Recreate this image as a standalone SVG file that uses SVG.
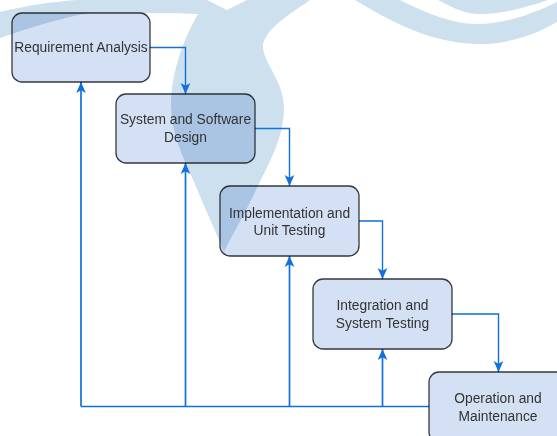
<svg xmlns="http://www.w3.org/2000/svg" width="557" height="436" viewBox="0 0 557 436">
  <style>
    .box { fill: #d4e1f5; stroke: #36393d; stroke-width: 1.3; mix-blend-mode: multiply; }
    .lbl { font-family: "Liberation Sans", Arial, sans-serif; font-size: 13.8px; fill: #333333; text-anchor: middle; }
    .wire { fill: none; stroke: #1170d9; stroke-width: 1.4; }
    .loop { stroke-width: 1.7; }
    .mark { fill: #cde0ee; }
  </style>
  <defs>
    <marker id="arrow" viewBox="0 0 10 10" refX="10" refY="5" markerWidth="11" markerHeight="11" markerUnits="userSpaceOnUse" orient="auto">
      <path d="M0,0.6 L10,5 L0,9.4 L2.5,5 Z" fill="#1170d9"/>
    </marker>
  </defs>

  <!-- faint background emblem -->
  <g id="emblem">
    <path class="mark" d="M0,12 C25,6 50,2 77,0 L207,0 L227,10 L247,0 L310,0
      C290,14 266,28 263,45 C262,62 284,80 284,108 C284,140 266,168 256,190
      C246,212 232,235 224,252 C214,228 204,206 194,182 C182,155 171,132 171,105
      C171,75 182,42 198,14 C180,13 165,13 150,13 L90,13 C60,18 30,28 12,34 L0,38 Z"/>
    <path class="mark" d="M355,0 L400,0 C420,10 450,24 477,24 C510,24 540,10 557,2 L557,22
      C540,32 510,45 477,44 C430,43 388,20 355,0 Z"/>
    <path class="mark" d="M438,0 C453,8 465,14 480,14 C505,14 530,6 548,0 Z"/>
  </g>

  <g id="connectors">
    <path class="wire" d="M150,47.5 H185.5 V94" marker-end="url(#arrow)"/>
    <path class="wire" d="M255,128.5 H289.5 V186" marker-end="url(#arrow)"/>
    <path class="wire" d="M359,221 H382.5 V279" marker-end="url(#arrow)"/>
    <path class="wire" d="M452,314 H498.5 V372" marker-end="url(#arrow)"/>
    <path class="wire loop" d="M429,406.5 H81"/>
    <path class="wire loop" d="M81,406.5 V82" marker-end="url(#arrow)"/>
    <path class="wire loop" d="M185.5,406.5 V163" marker-end="url(#arrow)"/>
    <path class="wire loop" d="M289.5,406.5 V256" marker-end="url(#arrow)"/>
    <path class="wire loop" d="M382.5,406.5 V349" marker-end="url(#arrow)"/>
  </g>

  <g id="requirement-analysis">
    <rect class="box" x="12" y="13" width="138" height="69" rx="10"/>
    <text class="lbl" x="81" y="52">Requirement Analysis</text>
  </g>
  <g id="system-software-design">
    <rect class="box" x="116" y="94" width="139" height="69" rx="10"/>
    <text class="lbl" x="185.5" y="124">System and Software</text>
    <text class="lbl" x="185.5" y="141.5">Design</text>
  </g>
  <g id="implementation-unit-testing">
    <rect class="box" x="220" y="186" width="139" height="70" rx="10"/>
    <text class="lbl" x="289.5" y="217.5">Implementation and</text>
    <text class="lbl" x="289.5" y="235">Unit Testing</text>
  </g>
  <g id="integration-system-testing">
    <rect class="box" x="313" y="279" width="139" height="70" rx="10"/>
    <text class="lbl" x="382.5" y="309.5">Integration and</text>
    <text class="lbl" x="382.5" y="327.5">System Testing</text>
  </g>
  <g id="operation-maintenance">
    <rect class="box" x="429" y="372" width="139" height="70" rx="10"/>
    <text class="lbl" x="498" y="403">Operation and</text>
    <text class="lbl" x="498" y="420.5">Maintenance</text>
  </g>
</svg>
